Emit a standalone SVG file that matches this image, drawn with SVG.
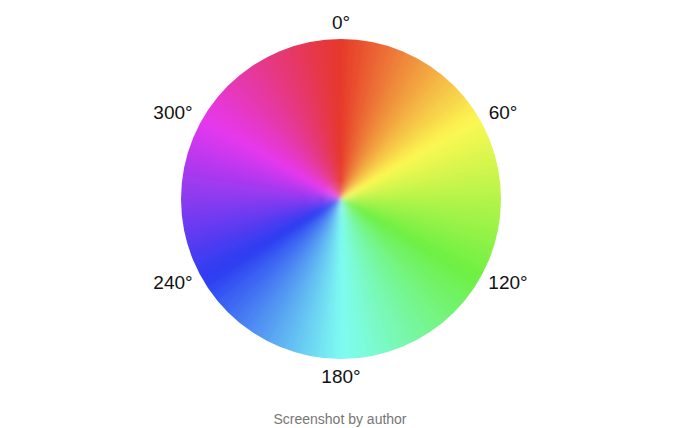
<svg xmlns="http://www.w3.org/2000/svg" xmlns:xlink="http://www.w3.org/1999/xlink" width="680" height="428" viewBox="0 0 680 428">
<style>
.lbl{font-family:"Liberation Sans",Arial,sans-serif;font-size:19px;fill:#111;text-anchor:middle}
.cap{font-family:"Liberation Sans",Arial,sans-serif;font-size:14px;fill:#767676;text-anchor:middle}
</style>
<defs>
<path id="w" d="M341 199 L335.1 24.1 L346.9 24.1 Z"/>
<clipPath id="disc"><circle cx="341" cy="199" r="160"/></clipPath>
<filter id="soft" x="-10%" y="-10%" width="120%" height="120%"><feGaussianBlur stdDeviation="2"/></filter>
</defs>
<rect width="680" height="428" fill="#fff"/>
<g id="wheel" clip-path="url(#disc)">
<g filter="url(#soft)">
<use href="#w" transform="rotate(1.5 341 199)" fill="rgb(231,61,43)"/>
<use href="#w" transform="rotate(4.5 341 199)" fill="rgb(232,70,45)"/>
<use href="#w" transform="rotate(7.5 341 199)" fill="rgb(233,80,47)"/>
<use href="#w" transform="rotate(10.5 341 199)" fill="rgb(234,90,49)"/>
<use href="#w" transform="rotate(13.5 341 199)" fill="rgb(235,99,51)"/>
<use href="#w" transform="rotate(16.5 341 199)" fill="rgb(236,109,53)"/>
<use href="#w" transform="rotate(19.5 341 199)" fill="rgb(237,118,55)"/>
<use href="#w" transform="rotate(22.5 341 199)" fill="rgb(238,128,57)"/>
<use href="#w" transform="rotate(25.5 341 199)" fill="rgb(239,138,59)"/>
<use href="#w" transform="rotate(28.5 341 199)" fill="rgb(240,147,61)"/>
<use href="#w" transform="rotate(31.5 341 199)" fill="rgb(242,157,63)"/>
<use href="#w" transform="rotate(34.5 341 199)" fill="rgb(243,166,65)"/>
<use href="#w" transform="rotate(37.5 341 199)" fill="rgb(244,176,67)"/>
<use href="#w" transform="rotate(40.5 341 199)" fill="rgb(245,186,69)"/>
<use href="#w" transform="rotate(43.5 341 199)" fill="rgb(246,195,71)"/>
<use href="#w" transform="rotate(46.5 341 199)" fill="rgb(247,205,73)"/>
<use href="#w" transform="rotate(49.5 341 199)" fill="rgb(248,214,75)"/>
<use href="#w" transform="rotate(52.5 341 199)" fill="rgb(249,224,77)"/>
<use href="#w" transform="rotate(55.5 341 199)" fill="rgb(250,234,79)"/>
<use href="#w" transform="rotate(58.5 341 199)" fill="rgb(251,243,81)"/>
<use href="#w" transform="rotate(61.5 341 199)" fill="rgb(248,248,82)"/>
<use href="#w" transform="rotate(64.5 341 199)" fill="rgb(241,247,81)"/>
<use href="#w" transform="rotate(67.5 341 199)" fill="rgb(234,247,80)"/>
<use href="#w" transform="rotate(70.5 341 199)" fill="rgb(227,247,79)"/>
<use href="#w" transform="rotate(73.5 341 199)" fill="rgb(220,246,79)"/>
<use href="#w" transform="rotate(76.5 341 199)" fill="rgb(213,246,78)"/>
<use href="#w" transform="rotate(79.5 341 199)" fill="rgb(206,245,77)"/>
<use href="#w" transform="rotate(82.5 341 199)" fill="rgb(199,245,76)"/>
<use href="#w" transform="rotate(85.5 341 199)" fill="rgb(192,245,76)"/>
<use href="#w" transform="rotate(88.5 341 199)" fill="rgb(185,244,75)"/>
<use href="#w" transform="rotate(91.5 341 199)" fill="rgb(177,244,74)"/>
<use href="#w" transform="rotate(94.5 341 199)" fill="rgb(170,243,73)"/>
<use href="#w" transform="rotate(97.5 341 199)" fill="rgb(163,243,73)"/>
<use href="#w" transform="rotate(100.5 341 199)" fill="rgb(156,243,72)"/>
<use href="#w" transform="rotate(103.5 341 199)" fill="rgb(149,242,71)"/>
<use href="#w" transform="rotate(106.5 341 199)" fill="rgb(142,242,70)"/>
<use href="#w" transform="rotate(109.5 341 199)" fill="rgb(135,241,70)"/>
<use href="#w" transform="rotate(112.5 341 199)" fill="rgb(128,241,69)"/>
<use href="#w" transform="rotate(115.5 341 199)" fill="rgb(121,241,68)"/>
<use href="#w" transform="rotate(118.5 341 199)" fill="rgb(114,240,67)"/>
<use href="#w" transform="rotate(121.5 341 199)" fill="rgb(110,240,71)"/>
<use href="#w" transform="rotate(124.5 341 199)" fill="rgb(111,241,80)"/>
<use href="#w" transform="rotate(127.5 341 199)" fill="rgb(112,242,89)"/>
<use href="#w" transform="rotate(130.5 341 199)" fill="rgb(113,242,98)"/>
<use href="#w" transform="rotate(133.5 341 199)" fill="rgb(114,243,106)"/>
<use href="#w" transform="rotate(136.5 341 199)" fill="rgb(115,243,115)"/>
<use href="#w" transform="rotate(139.5 341 199)" fill="rgb(116,244,124)"/>
<use href="#w" transform="rotate(142.5 341 199)" fill="rgb(116,245,133)"/>
<use href="#w" transform="rotate(145.5 341 199)" fill="rgb(117,245,141)"/>
<use href="#w" transform="rotate(148.5 341 199)" fill="rgb(118,246,150)"/>
<use href="#w" transform="rotate(151.5 341 199)" fill="rgb(119,246,159)"/>
<use href="#w" transform="rotate(154.5 341 199)" fill="rgb(120,247,168)"/>
<use href="#w" transform="rotate(157.5 341 199)" fill="rgb(121,248,176)"/>
<use href="#w" transform="rotate(160.5 341 199)" fill="rgb(121,248,185)"/>
<use href="#w" transform="rotate(163.5 341 199)" fill="rgb(122,249,194)"/>
<use href="#w" transform="rotate(166.5 341 199)" fill="rgb(123,249,203)"/>
<use href="#w" transform="rotate(169.5 341 199)" fill="rgb(124,250,211)"/>
<use href="#w" transform="rotate(172.5 341 199)" fill="rgb(125,251,220)"/>
<use href="#w" transform="rotate(175.5 341 199)" fill="rgb(126,251,229)"/>
<use href="#w" transform="rotate(178.5 341 199)" fill="rgb(127,252,238)"/>
<use href="#w" transform="rotate(181.5 341 199)" fill="rgb(125,247,242)"/>
<use href="#w" transform="rotate(184.5 341 199)" fill="rgb(121,238,242)"/>
<use href="#w" transform="rotate(187.5 341 199)" fill="rgb(117,228,242)"/>
<use href="#w" transform="rotate(190.5 341 199)" fill="rgb(112,218,242)"/>
<use href="#w" transform="rotate(193.5 341 199)" fill="rgb(108,209,242)"/>
<use href="#w" transform="rotate(196.5 341 199)" fill="rgb(104,199,242)"/>
<use href="#w" transform="rotate(199.5 341 199)" fill="rgb(100,190,242)"/>
<use href="#w" transform="rotate(202.5 341 199)" fill="rgb(96,180,242)"/>
<use href="#w" transform="rotate(205.5 341 199)" fill="rgb(91,170,242)"/>
<use href="#w" transform="rotate(208.5 341 199)" fill="rgb(87,161,242)"/>
<use href="#w" transform="rotate(211.5 341 199)" fill="rgb(83,151,242)"/>
<use href="#w" transform="rotate(214.5 341 199)" fill="rgb(79,142,242)"/>
<use href="#w" transform="rotate(217.5 341 199)" fill="rgb(75,132,242)"/>
<use href="#w" transform="rotate(220.5 341 199)" fill="rgb(70,122,242)"/>
<use href="#w" transform="rotate(223.5 341 199)" fill="rgb(66,113,242)"/>
<use href="#w" transform="rotate(226.5 341 199)" fill="rgb(62,103,242)"/>
<use href="#w" transform="rotate(229.5 341 199)" fill="rgb(58,94,242)"/>
<use href="#w" transform="rotate(232.5 341 199)" fill="rgb(54,84,242)"/>
<use href="#w" transform="rotate(235.5 341 199)" fill="rgb(49,74,242)"/>
<use href="#w" transform="rotate(238.5 341 199)" fill="rgb(45,65,242)"/>
<use href="#w" transform="rotate(241.5 341 199)" fill="rgb(48,60,242)"/>
<use href="#w" transform="rotate(244.5 341 199)" fill="rgb(57,60,242)"/>
<use href="#w" transform="rotate(247.5 341 199)" fill="rgb(66,60,242)"/>
<use href="#w" transform="rotate(250.5 341 199)" fill="rgb(76,59,241)"/>
<use href="#w" transform="rotate(253.5 341 199)" fill="rgb(85,59,241)"/>
<use href="#w" transform="rotate(256.5 341 199)" fill="rgb(94,59,241)"/>
<use href="#w" transform="rotate(259.5 341 199)" fill="rgb(104,59,241)"/>
<use href="#w" transform="rotate(262.5 341 199)" fill="rgb(113,59,241)"/>
<use href="#w" transform="rotate(265.5 341 199)" fill="rgb(122,58,240)"/>
<use href="#w" transform="rotate(268.5 341 199)" fill="rgb(132,58,240)"/>
<use href="#w" transform="rotate(271.5 341 199)" fill="rgb(141,58,240)"/>
<use href="#w" transform="rotate(274.5 341 199)" fill="rgb(151,58,240)"/>
<use href="#w" transform="rotate(277.5 341 199)" fill="rgb(160,58,240)"/>
<use href="#w" transform="rotate(280.5 341 199)" fill="rgb(169,57,239)"/>
<use href="#w" transform="rotate(283.5 341 199)" fill="rgb(179,57,239)"/>
<use href="#w" transform="rotate(286.5 341 199)" fill="rgb(188,57,239)"/>
<use href="#w" transform="rotate(289.5 341 199)" fill="rgb(197,57,239)"/>
<use href="#w" transform="rotate(292.5 341 199)" fill="rgb(207,57,239)"/>
<use href="#w" transform="rotate(295.5 341 199)" fill="rgb(216,56,238)"/>
<use href="#w" transform="rotate(298.5 341 199)" fill="rgb(225,56,238)"/>
<use href="#w" transform="rotate(301.5 341 199)" fill="rgb(230,56,233)"/>
<use href="#w" transform="rotate(304.5 341 199)" fill="rgb(230,56,223)"/>
<use href="#w" transform="rotate(307.5 341 199)" fill="rgb(230,56,214)"/>
<use href="#w" transform="rotate(310.5 341 199)" fill="rgb(230,56,204)"/>
<use href="#w" transform="rotate(313.5 341 199)" fill="rgb(230,56,194)"/>
<use href="#w" transform="rotate(316.5 341 199)" fill="rgb(230,56,184)"/>
<use href="#w" transform="rotate(319.5 341 199)" fill="rgb(230,56,174)"/>
<use href="#w" transform="rotate(322.5 341 199)" fill="rgb(230,56,165)"/>
<use href="#w" transform="rotate(325.5 341 199)" fill="rgb(230,56,155)"/>
<use href="#w" transform="rotate(328.5 341 199)" fill="rgb(230,56,145)"/>
<use href="#w" transform="rotate(331.5 341 199)" fill="rgb(230,56,135)"/>
<use href="#w" transform="rotate(334.5 341 199)" fill="rgb(230,56,125)"/>
<use href="#w" transform="rotate(337.5 341 199)" fill="rgb(230,56,116)"/>
<use href="#w" transform="rotate(340.5 341 199)" fill="rgb(230,56,106)"/>
<use href="#w" transform="rotate(343.5 341 199)" fill="rgb(230,56,96)"/>
<use href="#w" transform="rotate(346.5 341 199)" fill="rgb(230,56,86)"/>
<use href="#w" transform="rotate(349.5 341 199)" fill="rgb(230,56,76)"/>
<use href="#w" transform="rotate(352.5 341 199)" fill="rgb(230,56,67)"/>
<use href="#w" transform="rotate(355.5 341 199)" fill="rgb(230,56,57)"/>
<use href="#w" transform="rotate(358.5 341 199)" fill="rgb(230,56,47)"/>
</g>
</g>
<g id="labels">
<text class="lbl" x="341" y="29">0°</text>
<text class="lbl" x="503" y="119">60°</text>
<text class="lbl" x="508" y="289">120°</text>
<text class="lbl" x="341" y="383">180°</text>
<text class="lbl" x="173" y="289">240°</text>
<text class="lbl" x="173" y="119">300°</text>
</g>
<text id="caption" class="cap" x="340" y="424">Screenshot by author</text>
</svg>
